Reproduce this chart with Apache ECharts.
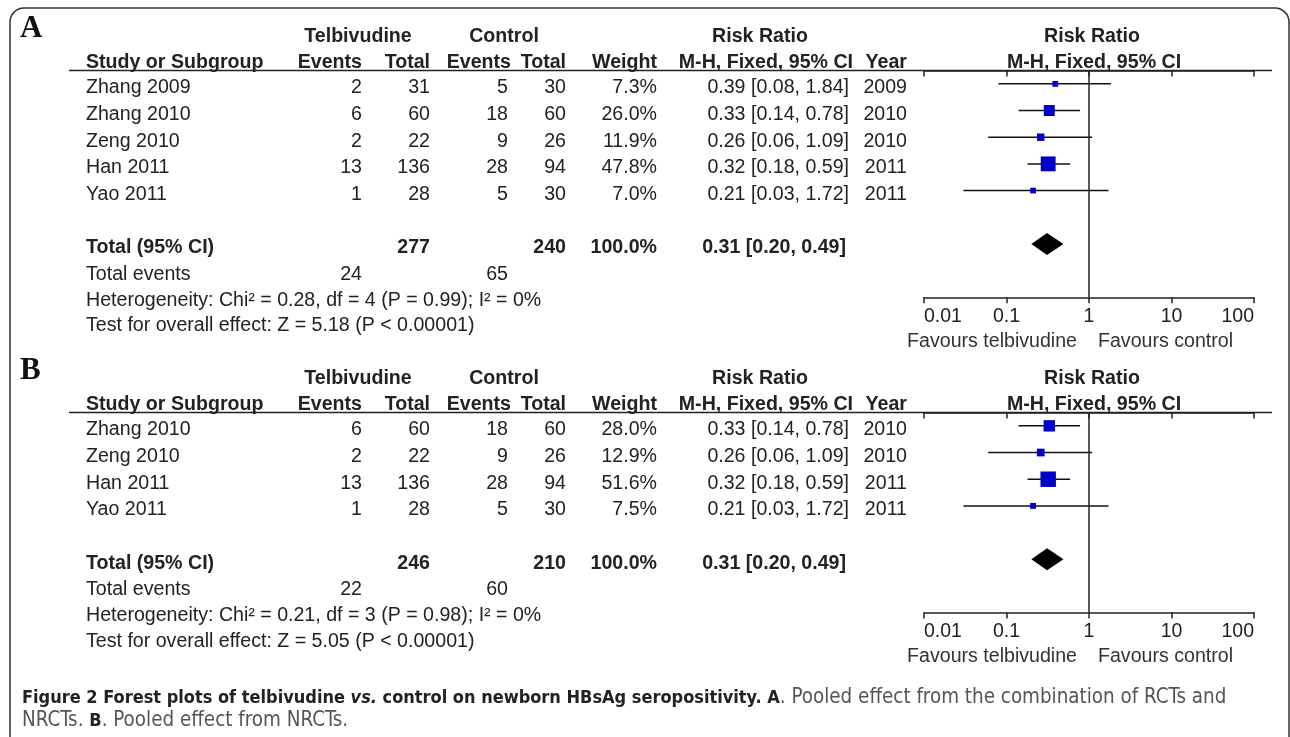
<!DOCTYPE html>
<html>
<head>
<meta charset="utf-8">
<script src="https://cdn.jsdelivr.net/npm/echarts@6/dist/echarts.min.js"></script>
<style>
html,body{margin:0;padding:0;background:#fff;}
#chart{width:1290px;height:737px;}
</style>
</head>
<body>
<div id="chart"></div>
<script>
// ---- Panel A: RCTs and NRCTs combined ----
const studiesA   = ['Zhang 2009', 'Zhang 2010', 'Zeng 2010', 'Han 2011', 'Yao 2011'];
const telEventsA = [2, 6, 2, 13, 1];
const telTotalA  = [31, 60, 22, 136, 28];
const ctlEventsA = [5, 18, 9, 28, 5];
const ctlTotalA  = [30, 60, 26, 94, 30];
const weightA    = [7.3, 26.0, 11.9, 47.8, 7.0];
const rrA        = [0.39, 0.33, 0.26, 0.32, 0.21];
const loA        = [0.08, 0.14, 0.06, 0.18, 0.03];
const hiA        = [1.84, 0.78, 1.09, 0.59, 1.72];
const yearA      = [2009, 2010, 2010, 2011, 2011];
const totalsA    = [277, 240];          // telbivudine total, control total
const totalEvA   = [24, 65];            // total events
const pooledA    = [0.31, 0.20, 0.49];  // RR, lower, upper
const hetA  = 'Heterogeneity: Chi² = 0.28, df = 4 (P = 0.99); I² = 0%';
const testA = 'Test for overall effect: Z = 5.18 (P < 0.00001)';

// ---- Panel B: NRCTs only ----
const studiesB   = ['Zhang 2010', 'Zeng 2010', 'Han 2011', 'Yao 2011'];
const telEventsB = [6, 2, 13, 1];
const telTotalB  = [60, 22, 136, 28];
const ctlEventsB = [18, 9, 28, 5];
const ctlTotalB  = [60, 26, 94, 30];
const weightB    = [28.0, 12.9, 51.6, 7.5];
const rrB        = [0.33, 0.26, 0.32, 0.21];
const loB        = [0.14, 0.06, 0.18, 0.03];
const hiB        = [0.78, 1.09, 0.59, 1.72];
const yearB      = [2010, 2010, 2011, 2011];
const totalsB    = [246, 210];
const totalEvB   = [22, 60];
const pooledB    = [0.31, 0.20, 0.49];
const hetB  = 'Heterogeneity: Chi² = 0.21, df = 3 (P = 0.98); I² = 0%';
const testB = 'Test for overall effect: Z = 5.05 (P < 0.00001)';

// Risk-ratio axis ticks
const tickValues = [0.01, 0.1, 1, 10, 100];
const tickLabels = ['0.01', '0.1', '1', '10', '100'];

const FONT = "'Liberation Sans', Arial, sans-serif";
const CAP_FONT = "'Liberation Sans Narrow', 'DejaVu Sans Condensed', sans-serif";
const FS = 19.6;               // table font size
const TXT = '#222';
const ROW = 26.68;             // row pitch in px
const BLUE = '#0000c8';

const chart = echarts.init(document.getElementById('chart'), null, {renderer: 'canvas'});

function fmt2(v) { return v.toFixed(2); }
function rrText(r, l, h) { return fmt2(r) + ' [' + fmt2(l) + ', ' + fmt2(h) + ']'; }

function studyData(rr, lo, hi, w) {
  return rr.map((r, i) => [r, i + 1, lo[i], hi[i], w[i]]);
}

// CI whisker plus a weight-scaled square
function renderStudy(params, api) {
  const r = api.value(0), row = api.value(1), l = api.value(2), h = api.value(3), w = api.value(4);
  const c = api.coord([r, row]);
  const pl = api.coord([l, row]);
  const ph = api.coord([h, row]);
  const s = 2.15 * Math.sqrt(w);
  return {
    type: 'group',
    children: [
      {type: 'line', shape: {x1: pl[0], y1: c[1], x2: ph[0], y2: c[1]}, style: {stroke: '#111', lineWidth: 1.5}},
      {type: 'rect', shape: {x: c[0] - s / 2, y: c[1] - s / 2, width: s, height: s}, style: {fill: BLUE}}
    ]
  };
}

// Pooled estimate diamond spanning its CI
function renderDiamond(params, api) {
  const r = api.value(0), row = api.value(1), l = api.value(2), h = api.value(3);
  const c = api.coord([r, row]);
  const pl = api.coord([l, row]);
  const ph = api.coord([h, row]);
  const hh = 11;
  return {
    type: 'polygon',
    shape: {points: [[pl[0], c[1]], [c[0], c[1] - hh], [ph[0], c[1]], [c[0], c[1] + hh]]},
    style: {fill: '#000'}
  };
}

function logLabel(v) {
  const k = tickValues.findIndex(t => Math.abs(Math.log10(t) - Math.log10(v)) < 1e-6);
  return k >= 0 ? tickLabels[k] : '';
}

// two overlaid log axes: one with outward ticks + labels, one with inward ticks
function xAxisPair(gridIndex) {
  const base = {
    type: 'log', logBase: 10, min: 0.01, max: 100, gridIndex: gridIndex,
    splitLine: {show: false},
    axisLine: {show: true, lineStyle: {color: '#222', width: 1.5}}
  };
  return [
    Object.assign({}, base, {
      axisTick: {show: true, length: 6, lineStyle: {color: '#222', width: 1.5}},
      axisLabel: {
        show: true, margin: 9, fontSize: 19.5, fontFamily: FONT, color: TXT,
        formatter: logLabel, alignMinLabel: 'left', alignMaxLabel: 'right'
      }
    }),
    Object.assign({}, base, {
      axisTick: {show: true, inside: true, length: 6, lineStyle: {color: '#222', width: 1.5}},
      axisLabel: {show: false}
    })
  ];
}

const gridA = {left: 924, width: 330, top: 70.5, height: 8.5 * ROW, outerBoundsMode: 'none'};
const gridB = {left: 924, width: 330, top: 412.5, height: 7.5 * ROW, outerBoundsMode: 'none'};

const refLine = {
  silent: true, symbol: 'none', label: {show: false},
  lineStyle: {color: '#222', width: 1.5, type: 'solid'},
  data: [{xAxis: 1}]
};

chart.setOption({
  animation: false,
  backgroundColor: '#fff',
  grid: [gridA, gridB],
  xAxis: [].concat(xAxisPair(0), xAxisPair(1)),
  yAxis: [
    {type: 'value', gridIndex: 0, inverse: true, min: 0.5, max: 9, show: false},
    {type: 'value', gridIndex: 1, inverse: true, min: 0.5, max: 8, show: false}
  ],
  series: [
    {type: 'custom', xAxisIndex: 0, yAxisIndex: 0, renderItem: renderStudy,
     data: studyData(rrA, loA, hiA, weightA), encode: {x: 0, y: 1}, markLine: refLine, clip: false},
    {type: 'custom', xAxisIndex: 0, yAxisIndex: 0, renderItem: renderDiamond,
     data: [[pooledA[0], studiesA.length + 2, pooledA[1], pooledA[2]]], encode: {x: 0, y: 1}},
    {type: 'custom', xAxisIndex: 2, yAxisIndex: 1, renderItem: renderStudy,
     data: studyData(rrB, loB, hiB, weightB), encode: {x: 0, y: 1}, markLine: refLine, clip: false},
    {type: 'custom', xAxisIndex: 2, yAxisIndex: 1, renderItem: renderDiamond,
     data: [[pooledB[0], studiesB.length + 2, pooledB[1], pooledB[2]]], encode: {x: 0, y: 1}}
  ]
});

// ---- Table text, aligned to the rows of each plot ----
const COL = {
  study: 86, telEv: 362, telTot: 430, ctlEv: 508, ctlTot: 566, weight: 657,
  rr: 849, year: 907, plotMid: 1092
};

function txt(x, y, s, opt) {
  return {
    type: 'text', x: x, y: y, silent: true,
    style: Object.assign({
      text: s, fill: TXT, font: FS + 'px ' + FONT, textAlign: 'left', textVerticalAlign: 'middle'
    }, opt || {})
  };
}
const R = {textAlign: 'right'};
const C = {textAlign: 'center'};
const B = (extra) => Object.assign({font: 'bold ' + FS + 'px ' + FONT}, extra || {});

function panelGraphics(g, letter, studies, te, tt, ce, ct, w, rr, lo, hi, yr, totals, tev, pooled, het, test) {
  const yOf = (row) => chart.convertToPixel({gridIndex: g}, [1, row])[1] + 4;
  const lineY = chart.convertToPixel({gridIndex: g}, [1, 0.5])[1];
  const h2 = lineY - 8, h1 = lineY - 34;
  const out = [];
  out.push(txt(20, h1 - 8, letter, {font: 'bold 31px "Liberation Serif", "Times New Roman", serif', fill: '#111'}));
  out.push(txt(358, h1, 'Telbivudine', B(C)));
  out.push(txt(504, h1, 'Control', B(C)));
  out.push(txt(760, h1, 'Risk Ratio', B(C)));
  out.push(txt(COL.plotMid, h1, 'Risk Ratio', B(C)));
  out.push(txt(COL.study, h2, 'Study or Subgroup', B()));
  out.push(txt(COL.telEv, h2, 'Events', B(R)));
  out.push(txt(COL.telTot, h2, 'Total', B(R)));
  out.push(txt(COL.ctlEv + 3, h2, 'Events', B(R)));
  out.push(txt(COL.ctlTot, h2, 'Total', B(R)));
  out.push(txt(COL.weight, h2, 'Weight', B(R)));
  out.push(txt(COL.rr + 4, h2, 'M-H, Fixed, 95% CI', B(R)));
  out.push(txt(COL.year, h2, 'Year', B(R)));
  out.push(txt(COL.plotMid + 2, h2, 'M-H, Fixed, 95% CI', B(C)));
  out.push({type: 'line', silent: true, shape: {x1: 69, y1: lineY, x2: 1272, y2: lineY},
            style: {stroke: '#222', lineWidth: 1.5}});
  studies.forEach((s, i) => {
    const y = yOf(i + 1);
    out.push(txt(COL.study, y, s));
    out.push(txt(COL.telEv, y, String(te[i]), R));
    out.push(txt(COL.telTot, y, String(tt[i]), R));
    out.push(txt(COL.ctlEv, y, String(ce[i]), R));
    out.push(txt(COL.ctlTot, y, String(ct[i]), R));
    out.push(txt(COL.weight, y, w[i].toFixed(1) + '%', R));
    out.push(txt(COL.rr, y, rrText(rr[i], lo[i], hi[i]), R));
    out.push(txt(COL.year, y, String(yr[i]), R));
  });
  const n = studies.length;
  const yt = yOf(n + 2);
  out.push(txt(COL.study, yt, 'Total (95% CI)', B()));
  out.push(txt(COL.telTot, yt, String(totals[0]), B(R)));
  out.push(txt(COL.ctlTot, yt, String(totals[1]), B(R)));
  out.push(txt(COL.weight, yt, '100.0%', B(R)));
  out.push(txt(COL.rr - 3, yt, rrText(pooled[0], pooled[1], pooled[2]), B(R)));
  const ye = yOf(n + 3);
  out.push(txt(COL.study, ye, 'Total events'));
  out.push(txt(COL.telEv, ye, String(tev[0]), R));
  out.push(txt(COL.ctlEv, ye, String(tev[1]), R));
  out.push(txt(COL.study, yOf(n + 4) - 1, het));
  out.push(txt(COL.study, yOf(n + 5) - 2, test));
  // direction labels under the axis
  const axisY = chart.convertToPixel({gridIndex: g}, [1, g === 0 ? 9 : 8])[1];
  out.push(txt(1077, axisY + 44, 'Favours telbivudine', {textAlign: 'right', fill: '#333'}));
  out.push(txt(1098, axisY + 44, 'Favours control', {fill: '#333'}));
  return out;
}

const graphics = [].concat(
  [{type: 'rect', silent: true, shape: {x: 10, y: 8, width: 1279, height: 745, r: 14},
    style: {fill: 'none', stroke: '#333', lineWidth: 1.5}, z: -1}],
  panelGraphics(0, 'A', studiesA, telEventsA, telTotalA, ctlEventsA, ctlTotalA, weightA, rrA, loA, hiA, yearA, totalsA, totalEvA, pooledA, hetA, testA),
  panelGraphics(1, 'B', studiesB, telEventsB, telTotalB, ctlEventsB, ctlTotalB, weightB, rrB, loB, hiB, yearB, totalsB, totalEvB, pooledB, hetB, testB),
  [{
    type: 'text', x: 22, y: 698, silent: true,
    style: {
      text: '{b|Figure 2 Forest plots of telbivudine }{bi|vs.}{b| control on newborn HBsAg seropositivity. A}{r|. Pooled effect from the combination of RCTs and}',
      textVerticalAlign: 'middle',
      rich: {
        b: {font: 'bold 18px ' + CAP_FONT, fill: '#222'},
        bi: {font: 'italic bold 18px ' + CAP_FONT, fill: '#222'},
        r: {font: '20.4px ' + CAP_FONT, fill: '#555'}
      }
    }
  }, {
    type: 'text', x: 22, y: 721, silent: true,
    style: {
      text: '{r|NRCTs. }{b|B}{r|. Pooled effect from NRCTs.}',
      textVerticalAlign: 'middle',
      rich: {
        b: {font: 'bold 18px ' + CAP_FONT, fill: '#222'},
        r: {font: '20.4px ' + CAP_FONT, fill: '#555'}
      }
    }
  }]
);

chart.setOption({graphic: graphics});
</script>
</body>
</html>
